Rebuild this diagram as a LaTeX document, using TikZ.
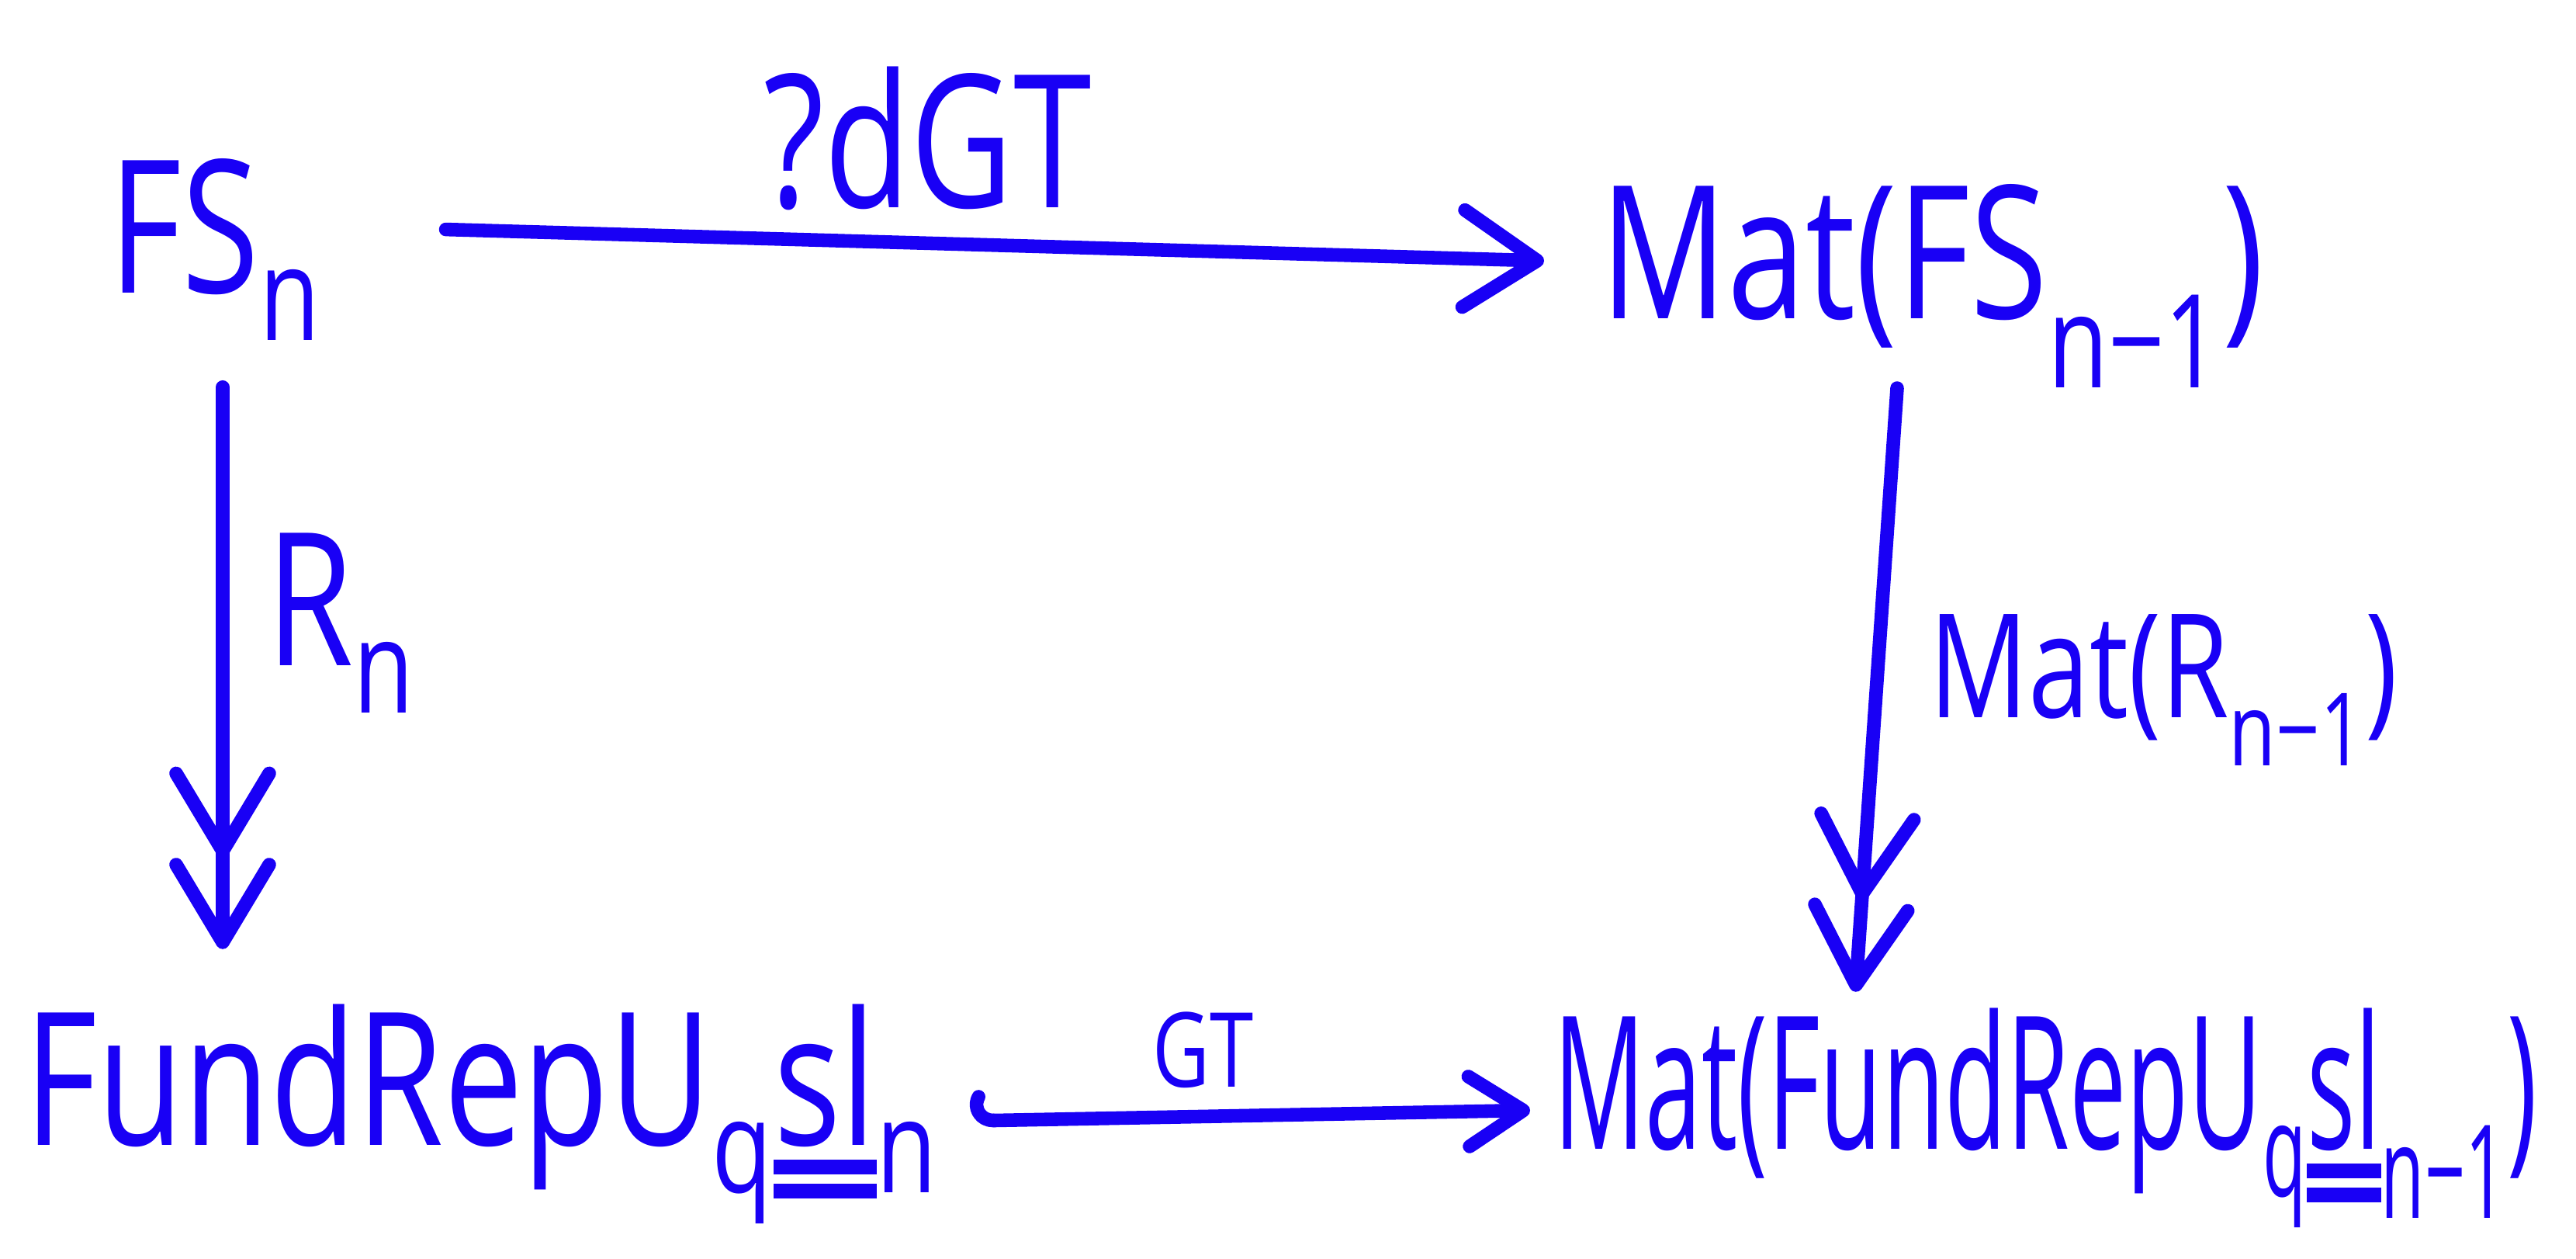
\documentclass[tikz,border=0pt]{standalone}
\usepackage{fontspec}
\setmainfont[FakeStretch=0.76]{Open Sans}
\usetikzlibrary{arrows.meta}
\definecolor{ink}{RGB}{25,0,245}
\newcommand{\dblul}[1]{\vtop{\hbox{#1}\kern0.07em\hrule height0.08em\kern0.05em\hrule height0.08em}}
\tikzset{
  obj/.style={anchor=base west, inner sep=0pt, text=ink,
              font=\fontsize{68}{80}\selectfont},
  smalllbl/.style={obj, font=\fontsize{53}{60}\selectfont},
  tinylbl/.style={obj, font=\fontsize{38}{44}\selectfont},
  stroke/.style={draw=ink, line width=5pt, line cap=round},
  mapto/.style={stroke, -{Straight Barb[length=9.5mm, width=12.5mm, round]}},
  onto/.style={stroke, -{Straight Barb[length=10mm, width=12mm, round]
                        Straight Barb[length=10mm, width=12mm, round]}},
  into/.style={stroke, {Hooks[arc=120, right, length=3mm, width=10mm, round]}-{Straight Barb[length=7mm, width=9mm, round]}},
}

\begin{document}
\begin{tikzpicture}
\useasboundingbox (0,0) rectangle (33.2,-16.21);

%% objects
\node[obj] (fs)      at (1.40,-3.77)  {FS\textsubscript{n}};
\node[obj] (matfs)   at (20.62,-4.10) {Mat(FS\textsubscript{n−1})};
\node[obj] (fund)    at (0.31,-14.75) {FundRepU\textsubscript{q}\dblul{sl}\textsubscript{n}};
\node[obj] (matfund) at (20.02,-14.80)
  {\scalebox{0.72}[1]{Mat(FundRepU\textsubscript{q}\dblul{sl}\textsubscript{n−1})}};

%% labels
\node[obj]      (dgt)  at (9.84,-2.67)  {?dGT};
\node[obj]      (rn)   at (3.43,-8.57)  {R\textsubscript{n}};
\node[smalllbl] (matr) at (24.86,-9.24) {Mat(R\textsubscript{n−1})};
\node[tinylbl]  (gt)   at (14.85,-14.00) {GT};

%% maps
\draw[mapto, shorten <=1.6cm, shorten >=0.72cm]
  ([yshift=3mm]fs.east) -- ([yshift=3mm]matfs.west);
\draw[onto, shorten <=0.6cm, shorten >=0.7cm]
  ([xshift=1.47cm]fs.south west) -- ([xshift=2.56cm]fund.north west);
\draw[onto, shorten >=0.2cm]
  ([xshift=3.83cm]matfs.south west) -- ([xshift=3.88cm]matfund.north west);
\draw[into, shorten <=0.4cm, shorten >=0.3cm]
  ([yshift=-1mm]fund.east) -- ([yshift=1mm]matfund.west);

\end{tikzpicture}
\end{document}
